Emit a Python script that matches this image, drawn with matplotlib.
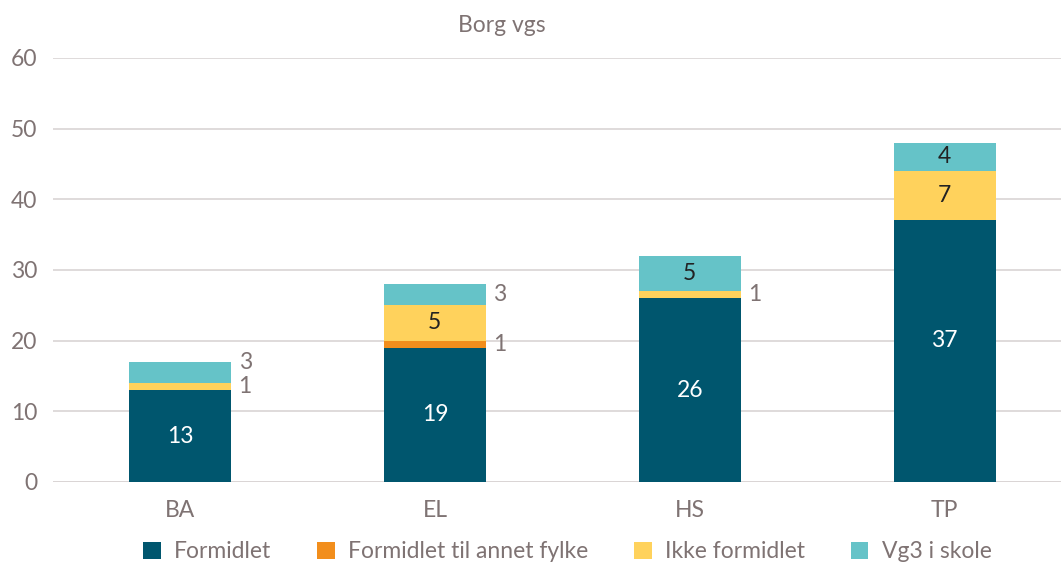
import matplotlib.pyplot as plt
import numpy as np

plt.rcParams['font.family'] = ['Lato', 'DejaVu Sans']

categories = ['BA', 'EL', 'HS', 'TP']
series_names = ['Formidlet', 'Formidlet til annet fylke', 'Ikke formidlet', 'Vg3 i skole']
formidlet = [13, 19, 26, 37]
annet_fylke = [0, 1, 0, 0]
ikke_formidlet = [1, 5, 1, 7]
vg3_skole = [3, 3, 5, 4]

colors = ['#00566E', '#F28E1C', '#FFD25C', '#65C3C8']
text_gray = '#7F7373'
grid_gray = '#D9D4D4'
fs = 16.5

fig = plt.figure(figsize=(10.61, 5.67), dpi=100)
ax = fig.add_axes([0.0495, 0.15, 0.961, 0.748])

x = np.arange(len(categories))
width = 0.4
bottom = np.zeros(len(categories))
all_series = [formidlet, annet_fylke, ikke_formidlet, vg3_skole]
for vals, name, col in zip(all_series, series_names, colors):
    vals = np.array(vals, dtype=float)
    ax.bar(x, vals, width, bottom=bottom, color=col, label=name, zorder=3)
    for i, v in enumerate(vals):
        if v == 0:
            continue
        mid = bottom[i] + v / 2
        if v >= 4:
            tc = 'white' if col == colors[0] else '#222222'
            if v > 30:
                mid += 1.5
            ax.text(x[i], mid, f'{int(v)}', ha='center', va='center',
                    color=tc, fontsize=fs, zorder=4)
        else:
            # small segments labelled to the right of the bar
            ypos = mid
            if categories[i] == 'BA' and name == 'Vg3 i skole':
                ypos = bottom[i] + v * 0.95
            ax.text(x[i] + width / 2 + 0.03, ypos, f'{int(v)}', ha='left',
                    va='center', color=text_gray, fontsize=fs, zorder=4)
    bottom += vals

ax.set_xlim(-0.5, len(categories) - 0.5)
ax.set_ylim(0, 60)
ax.set_yticks(range(0, 61, 10))
ax.set_xticks(x)
ax.set_xticklabels(categories)
ax.tick_params(axis='both', length=0, labelsize=fs, colors=text_gray)
ax.tick_params(axis='y', pad=11)
ax.tick_params(axis='x', pad=13)
ax.yaxis.grid(True, color=grid_gray, linewidth=1.2, zorder=0)
for s in ax.spines.values():
    s.set_visible(False)
ax.axhline(0, color=grid_gray, linewidth=1.2, zorder=2)

fig.text(502 / 1061, 1 - 26 / 567, 'Borg vgs', ha='center', va='center',
         color=text_gray, fontsize=fs)

leg = fig.legend(loc='center', bbox_to_anchor=(0.535, 1 - 552 / 567), ncol=4,
                 frameon=False, fontsize=fs, handlelength=0.75, handleheight=0.75,
                 handletextpad=0.6, columnspacing=2.0)
for t in leg.get_texts():
    t.set_color(text_gray)

fig.savefig('out.png', dpi=100)
